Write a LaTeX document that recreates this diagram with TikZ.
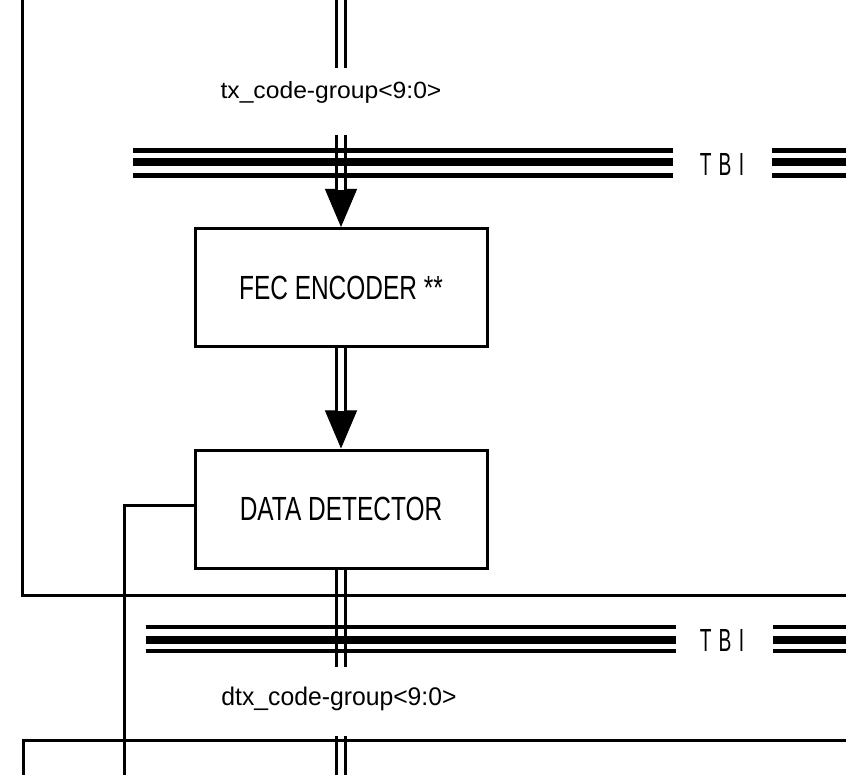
\documentclass[tikz,border=0pt]{standalone}
\usepackage{fontspec}
\setmainfont{Liberation Sans}
\newfontfamily\boxfont[FakeStretch=0.73]{Liberation Sans}
\newfontfamily\tbifont[FakeStretch=0.6]{Liberation Sans}
\newfontfamily\dtxfont[FakeStretch=0.97]{Liberation Sans}
\newfontfamily\txfont[FakeStretch=1.05]{Liberation Sans}
\usetikzlibrary{arrows.meta}
\begin{document}
\begin{tikzpicture}[x=1pt,y=-1pt,
  box/.style={draw, line width=3pt, minimum width=292pt, minimum height=118pt, inner sep=0pt,
    font=\boxfont\fontsize{33.5pt}{33.5pt}\selectfont},
  tbi/.style={inner sep=0pt, anchor=base, font=\tbifont\fontsize{32pt}{32pt}\selectfont},
  lbl/.style={inner sep=0pt, anchor=base},
  dbl/.style={draw=black, line width=3pt, double=white, double distance=6pt},
  tipline/.style={line width=1pt, -{Triangle[width=32pt,length=38pt]}},
  wire/.style={line width=3pt},
  busthin/.style={line width=4.5pt},
  busthick/.style={line width=8pt}]
\useasboundingbox (0,0) rectangle (846,775);

% blocks
\node[box] (fec) at (341,287.5) {FEC ENCODER **};
\node[box] (dd) at (341,509) {DATA DETECTOR};

% labels
\node[lbl, font=\txfont\fontsize{23.5pt}{23.5pt}\selectfont] (txlbl) at (331,99) {tx\_code-group<9:0>};
\node[lbl, font=\dtxfont\fontsize{25.5pt}{25.5pt}\selectfont] (dtxlbl) at (339,705) {dtx\_code-group<9:0>};
\node[tbi] (tbitop) at (722,176) {T\hspace{7pt}B\hspace{7.5pt}I};
\node[tbi] (tbibot) at (722,651) {T\hspace{7pt}B\hspace{7.5pt}I};

% coordinates for free ends
\coordinate (txin) at (341,0);
\coordinate (txgap) at (341,68);
\coordinate (txres) at (341,135);
\coordinate (dtxgap) at (341,667);
\coordinate (dtxres) at (341,736);
\coordinate (dtxout) at (341,775);
\coordinate (ddout) at (124,775);

% data path (double lines with arrow heads)
\draw[tipline] (txres) -- (fec.north);
\draw[dbl] (txin) -- (txgap);
\draw[dbl] (txres) -- ([yshift=37pt]fec.north);
\draw[tipline] (fec.south) -- (dd.north);
\draw[dbl] (fec.south) -- ([yshift=37pt]dd.north);
\draw[dbl] (dd.south) -- (dtxgap);
\draw[dbl] (dtxres) -- (dtxout);

% TBI buses
\draw[busthin]  (133,150.5) -- (673,150.5);
\draw[busthick] (133,162)   -- (673,162);
\draw[busthin]  (133,175.5) -- (673,175.5);
\draw[busthin]  (772,150.5) -- (846,150.5);
\draw[busthick] (772,162)   -- (846,162);
\draw[busthin]  (772,175.5) -- (846,175.5);

\draw[busthin]  (145.5,627) -- (676,627);
\draw[busthick] (145.5,639.5) -- (676,639.5);
\draw[busthin]  (145.5,651) -- (676,651);
\draw[busthin]  (773,627) -- (846,627);
\draw[busthick] (773,639.5) -- (846,639.5);
\draw[busthin]  (773,651) -- (846,651);

% frames
\draw[wire] (22.5,0) -- (22.5,595) -- (846,595);
\draw[wire] (846,740) -- (23,740) -- (23,775);

% detector side line
\draw[wire] ([yshift=4pt]dd.west) -| (ddout);
\end{tikzpicture}
\end{document}
